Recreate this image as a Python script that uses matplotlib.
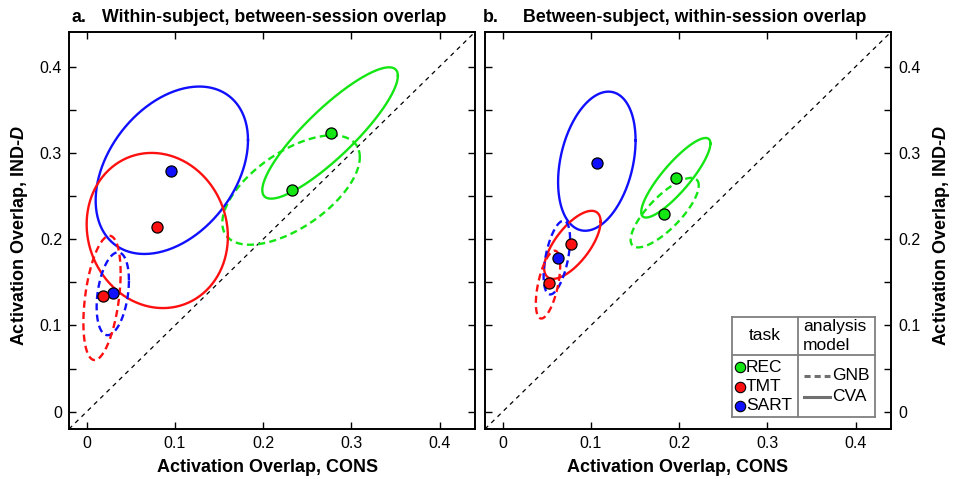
import numpy as np
import matplotlib
matplotlib.use("Agg")
import matplotlib.pyplot as plt
from matplotlib.lines import Line2D

plt.rcParams['font.family'] = ['Liberation Sans', 'DejaVu Sans']
plt.rcParams['mathtext.fontset'] = 'custom'
plt.rcParams['mathtext.rm'] = 'Liberation Sans:bold'
plt.rcParams['mathtext.it'] = 'Liberation Sans:italic:bold'
plt.rcParams['mathtext.bf'] = 'Liberation Sans:bold'

# ---------------- data ----------------
tasks = ["REC", "TMT", "SART"]
task_colors = {"REC": "#14e614", "TMT": "#ff1010", "SART": "#1010ff"}
models = ["GNB", "CVA"]
model_styles = {"GNB": (0, (3.0, 1.8)), "CVA": "-"}

# Panel a: within-subject, between-session overlap
# per (task, model): point (CONS, IND-D); ellipse centre, half-extent x/y, correlation
a_cons = {("REC", "GNB"): 0.233, ("REC", "CVA"): 0.277,
          ("TMT", "GNB"): 0.018, ("TMT", "CVA"): 0.080,
          ("SART", "GNB"): 0.030, ("SART", "CVA"): 0.096}
a_ind = {("REC", "GNB"): 0.257, ("REC", "CVA"): 0.323,
         ("TMT", "GNB"): 0.134, ("TMT", "CVA"): 0.214,
         ("SART", "GNB"): 0.138, ("SART", "CVA"): 0.279}
a_ell_cx = {("REC", "GNB"): 0.2316, ("REC", "CVA"): 0.2758,
            ("TMT", "GNB"): 0.0174, ("TMT", "CVA"): 0.0800,
            ("SART", "GNB"): 0.0296, ("SART", "CVA"): 0.0965}
a_ell_cy = {("REC", "GNB"): 0.2569, ("REC", "CVA"): 0.3230,
            ("TMT", "GNB"): 0.1319, ("TMT", "CVA"): 0.2100,
            ("SART", "GNB"): 0.1367, ("SART", "CVA"): 0.2798}
a_ell_sx = {("REC", "GNB"): 0.0779, ("REC", "CVA"): 0.0768,
            ("TMT", "GNB"): 0.0211, ("TMT", "CVA"): 0.0800,
            ("SART", "GNB"): 0.0183, ("SART", "CVA"): 0.0863}
a_ell_sy = {("REC", "GNB"): 0.0634, ("REC", "CVA"): 0.0761,
            ("TMT", "GNB"): 0.0720, ("TMT", "CVA"): 0.0899,
            ("SART", "GNB"): 0.0480, ("SART", "CVA"): 0.0970}
a_ell_r = {("REC", "GNB"): 0.60, ("REC", "CVA"): 0.87,
           ("TMT", "GNB"): 0.40, ("TMT", "CVA"): -0.08,
           ("SART", "GNB"): 0.32, ("SART", "CVA"): 0.36}

# Panel b: between-subject, within-session overlap
b_cons = {("REC", "GNB"): 0.183, ("REC", "CVA"): 0.196,
          ("TMT", "GNB"): 0.052, ("TMT", "CVA"): 0.078,
          ("SART", "GNB"): 0.063, ("SART", "CVA"): 0.107}
b_ind = {("REC", "GNB"): 0.229, ("REC", "CVA"): 0.271,
         ("TMT", "GNB"): 0.149, ("TMT", "CVA"): 0.194,
         ("SART", "GNB"): 0.178, ("SART", "CVA"): 0.288}
b_ell_cx = {("REC", "GNB"): 0.1836, ("REC", "CVA"): 0.1962,
            ("TMT", "GNB"): 0.0514, ("TMT", "CVA"): 0.0790,
            ("SART", "GNB"): 0.0614, ("SART", "CVA"): 0.1067}
b_ell_cy = {("REC", "GNB"): 0.2307, ("REC", "CVA"): 0.2711,
            ("TMT", "GNB"): 0.1473, ("TMT", "CVA"): 0.1934,
            ("SART", "GNB"): 0.1786, ("SART", "CVA"): 0.2903}
b_ell_sx = {("REC", "GNB"): 0.0386, ("REC", "CVA"): 0.0392,
            ("TMT", "GNB"): 0.0138, ("TMT", "CVA"): 0.0320,
            ("SART", "GNB"): 0.0150, ("SART", "CVA"): 0.0439}
b_ell_sy = {("REC", "GNB"): 0.0403, ("REC", "CVA"): 0.0461,
            ("TMT", "GNB"): 0.0393, ("TMT", "CVA"): 0.0394,
            ("SART", "GNB"): 0.0427, ("SART", "CVA"): 0.0806}
b_ell_r = {("REC", "GNB"): 0.78, ("REC", "CVA"): 0.86,
           ("TMT", "GNB"): 0.55, ("TMT", "CVA"): 0.68,
           ("SART", "GNB"): 0.50, ("SART", "CVA"): 0.30}

xticks = [0, 0.1, 0.2, 0.3, 0.4]
xticklabels = ["0", "0.1", "0.2", "0.3", "0.4"]
yticks = [0, 0.1, 0.2, 0.3, 0.4]
yticklabels = ["0", "0.1", "0.2", "0.3", "0.4"]
lims = (-0.02, 0.44)

# ---------------- figure ----------------
W, H = 956, 479
fig = plt.figure(figsize=(W / 100, H / 100), dpi=100)
ax_a = fig.add_axes([69 / W, 1 - 429 / H, 406 / W, 397 / H])
ax_b = fig.add_axes([485 / W, 1 - 429 / H, 406 / W, 397 / H])

t = np.linspace(0, 2 * np.pi, 300)


def draw_panel(ax, cons, ind, cx, cy, sx, sy, rr, right=False):
    ax.plot(lims, lims, color='k', lw=0.9, ls=(0, (3.5, 3.5)), zorder=1)
    order = [("REC", "CVA"), ("REC", "GNB"), ("SART", "CVA"), ("TMT", "CVA"),
             ("SART", "GNB"), ("TMT", "GNB")]
    for key in order:
        task, model = key
        r = rr[key]
        ex = cx[key] + sx[key] * np.cos(t)
        ey = cy[key] + sy[key] * (r * np.cos(t) + np.sqrt(1 - r * r) * np.sin(t))
        ax.plot(ex, ey, color=task_colors[task], lw=1.7, ls=model_styles[model], zorder=2)
    for key in order:
        task, model = key
        ax.plot(cons[key], ind[key], 'o', ms=8, mfc=task_colors[task], mec='k',
                mew=0.9, zorder=4)
    ax.set_xlim(lims)
    ax.set_ylim(lims)
    ax.set_xticks(xticks)
    ax.set_xticklabels(xticklabels)
    ax.set_yticks(yticks)
    ax.set_yticklabels(yticklabels)
    ax.set_yticks(np.arange(0.05, 0.45, 0.1), minor=True)
    ax.tick_params(which='both', direction='in', top=True, right=True,
                   labelsize=11.5, length=5, width=1, pad=5)
    ax.tick_params(which='minor', length=5)
    if right:
        ax.tick_params(labelleft=False, labelright=True)
    for sp in ax.spines.values():
        sp.set_linewidth(1.4)
    ax.set_xlabel("Activation Overlap, CONS", fontsize=13, fontweight='bold')
    ylab = r"Activation Overlap, IND-$\mathit{D}$"
    ax.set_ylabel(ylab, fontsize=13, fontweight='bold')
    if right:
        ax.yaxis.set_label_position('right')
        ax.yaxis.label.set_rotation(90)
        ax.xaxis.set_label_coords(0.474, -0.076)
        ax.yaxis.set_label_coords(1.098, 0.488)
    else:
        ax.xaxis.set_label_coords(0.488, -0.076)
        ax.yaxis.set_label_coords(-0.097, 0.488)


draw_panel(ax_a, a_cons, a_ind, a_ell_cx, a_ell_cy, a_ell_sx, a_ell_sy, a_ell_r)
draw_panel(ax_b, b_cons, b_ind, b_ell_cx, b_ell_cy, b_ell_sx, b_ell_sy, b_ell_r, right=True)

# titles
fig.text(72 / W, 1 - 22 / H, "a.", fontsize=12.8, fontweight='bold', va='baseline')
fig.text(102 / W, 1 - 22 / H, "Within-subject, between-session overlap",
         fontsize=12.8, fontweight='bold', va='baseline')
fig.text(483 / W, 1 - 22 / H, "b.", fontsize=12.8, fontweight='bold', va='baseline')
fig.text(523 / W, 1 - 22 / H, "Between-subject, within-session overlap",
         fontsize=12.8, fontweight='bold', va='baseline')

# custom legend table in panel b
lx0, lx1, lxm = 732, 875, 798
ly0, ly1, lym = 317, 417, 355
gray = '#7f7f7f'


def fx(px):
    return px / W


def fy(py):
    return 1 - py / H


fig.add_artist(matplotlib.patches.Rectangle((fx(lx0), fy(ly1)), fx(lx1) - fx(lx0),
                                            fy(ly0) - fy(ly1), transform=fig.transFigure,
                                            facecolor='white', edgecolor='none', zorder=4))
for (xa, ya, xb, yb) in [(lx0, ly0, lx1, ly0), (lx0, ly1, lx1, ly1), (lx0, ly0, lx0, ly1),
                         (lx1, ly0, lx1, ly1), (lxm, ly0, lxm, ly1), (lx0, lym, lx1, lym)]:
    fig.add_artist(Line2D([fx(xa), fx(xb)], [fy(ya), fy(yb)], color=gray, lw=1.3, zorder=5))
fig.text(fx(765), fy(336), "task", fontsize=12.5, ha='center', va='center', zorder=6)
fig.text(fx(803), fy(326), "analysis", fontsize=12.5, ha='left', va='center', zorder=6)
fig.text(fx(803), fy(346), "model", fontsize=12.5, ha='left', va='center', zorder=6)
for task, py in zip(tasks, [367, 386.5, 405.5]):
    fig.add_artist(Line2D([fx(739.5)], [fy(py)], marker='o', ms=7.5,
                          mfc=task_colors[task], mec='k', mew=0.8, zorder=6))
    fig.text(fx(746), fy(py), task, fontsize=12.5, ha='left', va='center', zorder=6)
for model, py in zip(models, [375.5, 396.5]):
    fig.add_artist(Line2D([fx(804), fx(830)], [fy(py), fy(py)], color='#707070', lw=2.2,
                          ls=model_styles[model] if model == "CVA" else (0, (2.0, 1.3)),
                          zorder=6))
    fig.text(fx(832), fy(py), model, fontsize=12.5, ha='left', va='center', zorder=6)

fig.savefig("out.png", dpi=100)
